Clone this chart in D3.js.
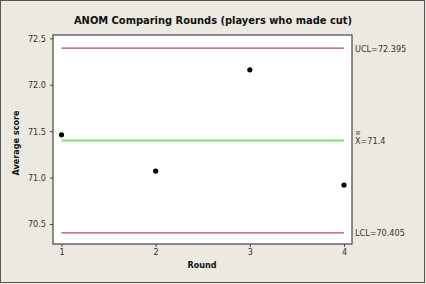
<!DOCTYPE html>
<html>
<head>
<meta charset="utf-8">
<script src="https://cdn.jsdelivr.net/npm/d3@7"></script>
<style>
  body { margin: 0; background: #ece9e1; }
  svg { display: block; }
</style>
</head>
<body>
<div id="chart"></div>
<script>
// chart data
const rounds = [1, 2, 3, 4];
const avgScore = [71.46, 71.07, 72.16, 70.92];
const yTicks = [70.5, 71.0, 71.5, 72.0, 72.5];
const limits = [
    {name: "UCL", value: 72.395, label: "UCL=72.395"},
    {name: "center", value: 71.4, label: "=71.4"},
    {name: "LCL", value: 70.405, label: "LCL=70.405"}
];

const W = 426, H = 284;
const plot = {left: 53, right: 352, top: 35, bottom: 244};

const svg = d3.select("#chart").append("svg")
    .attr("width", W)
    .attr("height", H);

// outer frame
svg.append("rect")
    .attr("x", 0.5).attr("y", 0.5)
    .attr("width", W - 2).attr("height", H - 2)
    .attr("fill", "#ece9e1")
    .attr("stroke", "#555");

const x = d3.scaleLinear().domain([1, 4]).range([61.5, 344]);
const y = d3.scaleLinear().domain([70.5, 72.5]).range([224, 38.3]);

// plot area
svg.append("rect")
    .attr("x", plot.left).attr("y", plot.top)
    .attr("width", plot.right - plot.left).attr("height", plot.bottom - plot.top)
    .attr("fill", "#fff")
    .attr("stroke", "#444")
    .attr("stroke-width", 1.2);

const font = "'DejaVu Sans Condensed', Tahoma, 'DejaVu Sans', sans-serif";

// axes
const yAxis = svg.append("g")
    .attr("transform", `translate(${plot.left},0)`)
    .call(d3.axisLeft(y).tickValues(yTicks).tickFormat(d3.format(".1f")).tickSize(3).tickPadding(4));
const xAxis = svg.append("g")
    .attr("transform", `translate(0,${plot.bottom})`)
    .call(d3.axisBottom(x).tickValues(rounds).tickFormat(d3.format("d")).tickSize(3).tickPadding(2));

[yAxis, xAxis].forEach(ax => {
    ax.select(".domain").remove();
    ax.selectAll("line").attr("stroke", "#444");
    ax.selectAll("text")
        .attr("fill", "#333")
        .style("font-family", font)
        .style("font-size", "9px");
});

// limit lines
const lineColor = d => d.name === "center" ? "#7ee07e" : "#c8475a";
svg.selectAll(".limit")
    .data(limits)
    .join("line")
    .attr("class", "limit")
    .attr("x1", x(1)).attr("x2", x(4))
    .attr("y1", d => y(d.value)).attr("y2", d => y(d.value))
    .attr("stroke", lineColor)
    .attr("stroke-width", d => d.name === "center" ? 2 : 1.3);

// limit labels
const labels = svg.selectAll(".lim-label")
    .data(limits)
    .join("text")
    .attr("class", "lim-label")
    .attr("x", 355)
    .attr("y", d => y(d.value) + 3.5)
    .attr("fill", "#333")
    .style("font-family", font)
    .style("font-size", "9px");
labels.filter(d => d.name !== "center").text(d => d.label);
labels.filter(d => d.name === "center").each(function(d) {
    const t = d3.select(this);
    t.append("tspan").text("X");
    t.append("tspan").text(d.label);
});
// double bar over X
[6.5, 8.5].forEach(off => {
    svg.append("line").attr("x1", 355.8).attr("x2", 360.2)
        .attr("y1", y(71.4) - off).attr("y2", y(71.4) - off)
        .attr("stroke", "#333").attr("stroke-width", 0.8);
});

// points
svg.selectAll(".pt")
    .data(rounds.map((r, i) => ({r, v: avgScore[i]})))
    .join("circle")
    .attr("class", "pt")
    .attr("cx", d => x(d.r))
    .attr("cy", d => y(d.v))
    .attr("r", 2.6)
    .attr("fill", "#000");

// titles
svg.append("text")
    .attr("x", 213).attr("y", 24)
    .attr("text-anchor", "middle")
    .style("font-family", font)
    .style("font-size", "11px")
    .style("font-weight", "bold")
    .attr("fill", "#111")
    .text("ANOM Comparing Rounds (players who made cut)");

svg.append("text")
    .attr("x", 202).attr("y", 268)
    .attr("text-anchor", "middle")
    .style("font-family", font)
    .style("font-size", "9px")
    .style("font-weight", "bold")
    .attr("fill", "#111")
    .text("Round");

svg.append("text")
    .attr("transform", "translate(19,143) rotate(-90)")
    .attr("text-anchor", "middle")
    .style("font-family", font)
    .style("font-size", "9px")
    .style("font-weight", "bold")
    .attr("fill", "#111")
    .text("Average score");
</script>
</body>
</html>
